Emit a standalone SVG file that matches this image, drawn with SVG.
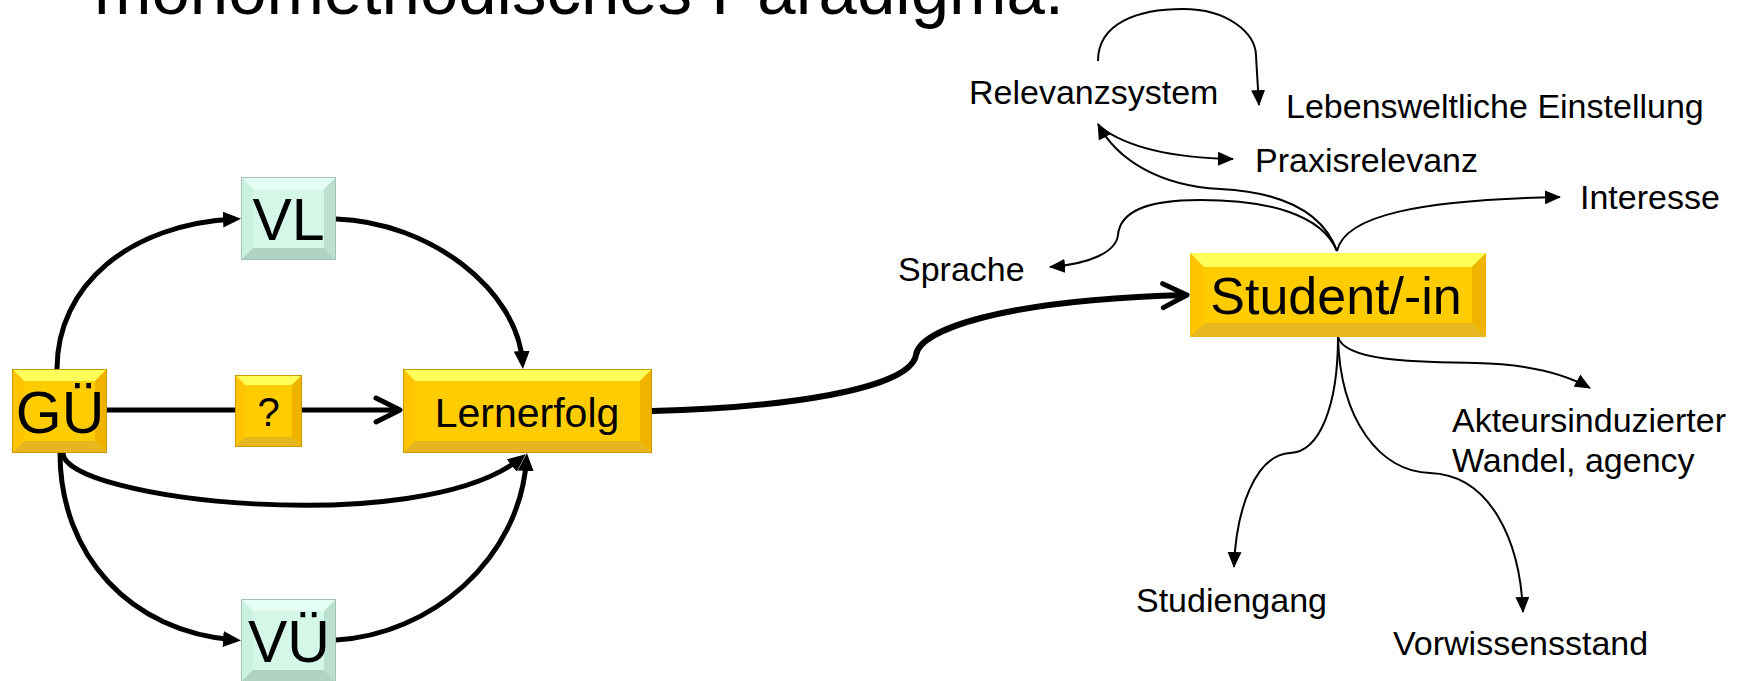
<svg xmlns="http://www.w3.org/2000/svg" width="1740" height="681" viewBox="0 0 1740 681">
<style>
text{font-family:"Liberation Sans",Arial,Helvetica,sans-serif;fill:#000}
.lbl{font-size:34px}
.big{font-size:59px;text-anchor:middle}
.mid{font-size:41px;text-anchor:middle}
.thick{fill:none;stroke:#000;stroke-width:5}
.thin{fill:none;stroke:#000;stroke-width:2}
.y .face{fill:#FFCC00}
.y .bt{fill:#FFFF5A}
.y .bl{fill:#FFC400}
.y .br{fill:#F0B400}
.y .bb{fill:#E8B61E}
.y .edge{fill:none;stroke:#C99A00;stroke-width:1}
.m .face{fill:#D4F7E8}
.m .bt{fill:#E6FFF4}
.m .bl{fill:#CBF1E0}
.m .br{fill:#BCE0CF}
.m .bb{fill:#B0D3C2}
.m .edge{fill:none;stroke:#A3C3B4;stroke-width:1}
</style>
<defs>
<marker id="ahThick" markerUnits="userSpaceOnUse" viewBox="0 0 18 16" markerWidth="18" markerHeight="16" refX="12" refY="8" orient="auto"><path d="M0,0 L18,8 L0,16 z" fill="#000"/></marker>
<marker id="ahThin" markerUnits="userSpaceOnUse" viewBox="0 0 16 14" markerWidth="16" markerHeight="14" refX="15" refY="7" orient="auto"><path d="M0,0 L16,7 L0,14 z" fill="#000"/></marker>
<marker id="chev" markerUnits="userSpaceOnUse" viewBox="-30 -16 36 32" markerWidth="36" markerHeight="32" refX="0" refY="0" orient="auto"><path d="M-24,-12 L0,0 L-24,12" fill="none" stroke="#000" stroke-width="5" stroke-linecap="round" stroke-linejoin="round"/></marker>
</defs>

<g id="title"><text x="94" y="14" font-size="70" textLength="970" lengthAdjust="spacingAndGlyphs">monomethodisches Paradigma.</text></g>

<g id="connectors">
<path class="thick" d="M57,369 C57,285 130,224 235,219" marker-end="url(#ahThick)"/>
<path class="thick" d="M336,219 C430,222 518,290 522.5,363" marker-end="url(#ahThick)"/>
<path class="thick" d="M107,410 L400,410" marker-end="url(#chev)"/>
<path class="thick" d="M63,453 C63,500 420,540 521,458" marker-end="url(#ahThick)"/>
<path class="thick" d="M60,453 C60,555 130,632 235,640" marker-end="url(#ahThick)"/>
<path class="thick" d="M336,640 C430,635 520,560 526.5,459" marker-end="url(#ahThick)"/>
<path class="thick" style="stroke-width:6" d="M652,411 C780,408 910,390 916,355 C920,330 1000,300 1187,295" marker-end="url(#chev)"/>
<path class="thin" d="M1098,61 C1098,22 1140,9 1183,9 C1228,9 1255,33 1256,55 C1257,75 1258,88 1259,105" marker-end="url(#ahThin)"/>
<path class="thin" d="M1100,127 C1128,148 1175,158 1233,159" marker-end="url(#ahThin)"/>
<path class="thin" d="M1337,251 C1322,210 1280,192 1220,189 C1160,186 1117,160 1098,124" marker-end="url(#ahThin)"/>
<path class="thin" d="M1337,251 C1322,215 1270,200 1200,200 C1145,200 1120,212 1118,235 C1116,252 1090,264 1050,267" marker-end="url(#ahThin)"/>
<path class="thin" d="M1337,251 C1345,215 1420,200 1560,197" marker-end="url(#ahThin)"/>
<path class="thin" d="M1338,337 C1345,362 1420,362 1475,363 C1530,364 1565,374 1590,388" marker-end="url(#ahThin)"/>
<path class="thin" d="M1338,337 C1338,405 1320,452 1290,453 C1255,455 1236,510 1234,567" marker-end="url(#ahThin)"/>
<path class="thin" d="M1338,337 C1340,420 1380,472 1430,473 C1490,475 1520,540 1523,612" marker-end="url(#ahThin)"/>
</g>

<g id="node-vl" class="m" transform="translate(241,177)">
<rect class="face" width="95" height="83"/>
<polygon class="bt" points="0,0 95,0 83,12 12,12"/>
<polygon class="bl" points="0,0 12,12 12,71 0,83"/>
<polygon class="br" points="95,0 95,83 83,71 83,12"/>
<polygon class="bb" points="0,83 12,71 83,71 95,83"/>
<rect class="edge" x="0.5" y="0.5" width="94" height="82"/>
<text class="big" x="47.5" y="63">VL</text>
</g>

<g id="node-vu" class="m" transform="translate(241,599)">
<rect class="face" width="95" height="83"/>
<polygon class="bt" points="0,0 95,0 83,12 12,12"/>
<polygon class="bl" points="0,0 12,12 12,71 0,83"/>
<polygon class="br" points="95,0 95,83 83,71 83,12"/>
<polygon class="bb" points="0,83 12,71 83,71 95,83"/>
<rect class="edge" x="0.5" y="0.5" width="94" height="82"/>
<text class="big" x="48" y="63">VÜ</text>
</g>

<g id="node-gu" class="y" transform="translate(12,369)">
<rect class="face" width="95" height="84"/>
<polygon class="bt" points="0,0 95,0 83,12 12,12"/>
<polygon class="bl" points="0,0 12,12 12,72 0,84"/>
<polygon class="br" points="95,0 95,84 83,72 83,12"/>
<polygon class="bb" points="0,84 12,72 83,72 95,84"/>
<rect class="edge" x="0.5" y="0.5" width="94" height="83"/>
<text class="big" x="48" y="64">GÜ</text>
</g>

<g id="node-q" class="y" transform="translate(235,375)">
<rect class="face" width="67" height="72"/>
<polygon class="bt" points="0,0 67,0 57,10 10,10"/>
<polygon class="bl" points="0,0 10,10 10,62 0,72"/>
<polygon class="br" points="67,0 67,72 57,62 57,10"/>
<polygon class="bb" points="0,72 10,62 57,62 67,72"/>
<rect class="edge" x="0.5" y="0.5" width="66" height="71"/>
<text class="mid" x="33.5" y="51" style="font-size:40px">?</text>
</g>

<g id="node-lernerfolg" class="y" transform="translate(403,369)">
<rect class="face" width="249" height="84"/>
<polygon class="bt" points="0,0 249,0 237,12 12,12"/>
<polygon class="bl" points="0,0 12,12 12,72 0,84"/>
<polygon class="br" points="249,0 249,84 237,72 237,12"/>
<polygon class="bb" points="0,84 12,72 237,72 249,84"/>
<rect class="edge" x="0.5" y="0.5" width="248" height="83"/>
<text class="mid" x="124" y="58">Lernerfolg</text>
</g>

<g id="node-student" class="y" transform="translate(1190,253)">
<rect class="face" width="296" height="84"/>
<polygon class="bt" points="0,0 296,0 282,14 14,14"/>
<polygon class="bl" points="0,0 14,14 14,70 0,84"/>
<polygon class="br" points="296,0 296,84 282,70 282,14"/>
<polygon class="bb" points="0,84 14,70 282,70 296,84"/>
<text x="146" y="61" style="font-size:52px;text-anchor:middle">Student/-in</text>
</g>

<g id="node-relevanzsystem"><text class="lbl" x="969" y="104">Relevanzsystem</text></g>
<g id="node-lebensweltliche"><text class="lbl" x="1286" y="118">Lebensweltliche Einstellung</text></g>
<g id="node-praxisrelevanz"><text class="lbl" x="1255" y="172">Praxisrelevanz</text></g>
<g id="node-interesse"><text class="lbl" x="1580" y="209">Interesse</text></g>
<g id="node-sprache"><text class="lbl" x="898" y="281">Sprache</text></g>
<g id="node-akteurs"><text class="lbl" x="1452" y="432">Akteursinduzierter</text><text class="lbl" x="1452" y="472">Wandel, agency</text></g>
<g id="node-studiengang"><text class="lbl" x="1136" y="612">Studiengang</text></g>
<g id="node-vorwissensstand"><text class="lbl" x="1393" y="655">Vorwissensstand</text></g>
</svg>
